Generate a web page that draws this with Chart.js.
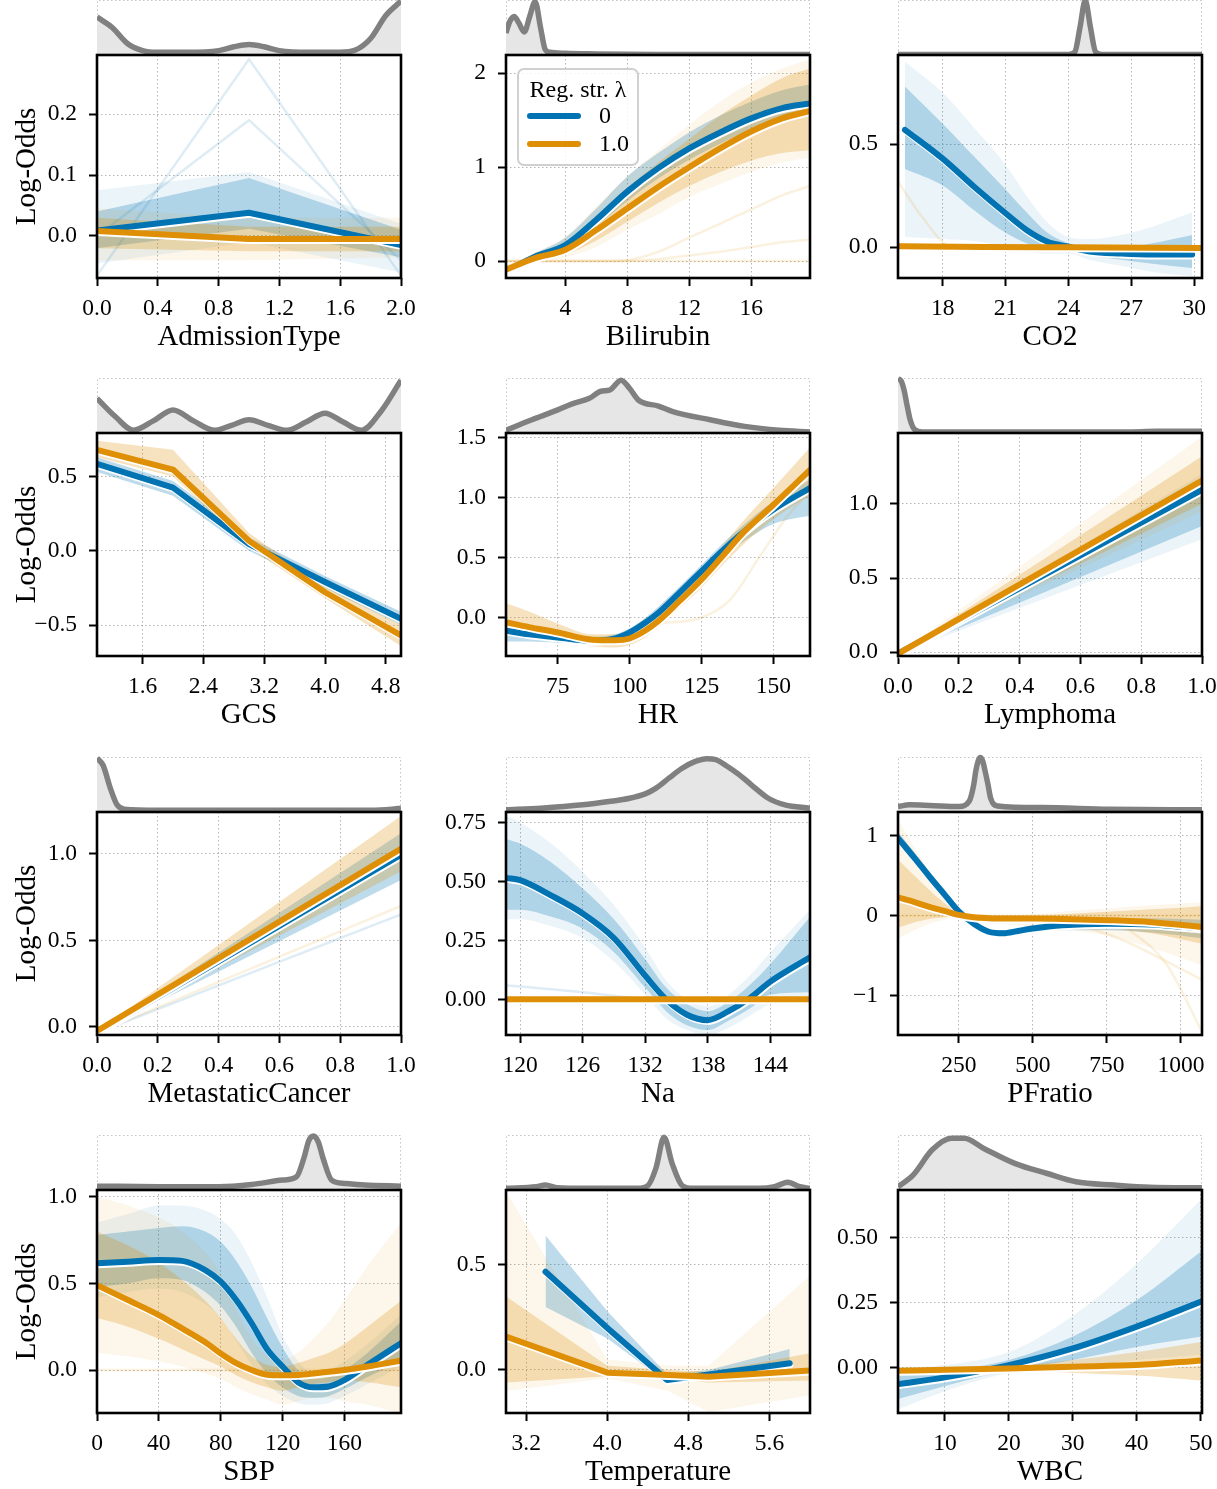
<!DOCTYPE html>
<html><head><meta charset="utf-8">
<script src="https://cdn.jsdelivr.net/npm/chart.js@4.4.0/dist/chart.umd.min.js"></script>
<style>
html,body{margin:0;padding:0;background:#fff;overflow:hidden;width:1217px;height:1489px;}
#wrap{position:relative;width:1217px;height:1489px;overflow:hidden;}
canvas{position:absolute;}
</style></head><body><div id="wrap"></div>
<script>
// ================= DATA =================
// AdmissionType
const admX = [0, 1, 2];
const admMean0 = [0.009, 0.038, -0.015];
const admLo0 = [-0.02, 0.012, -0.035];
const admHi0 = [0.04, 0.095, 0.01];
const admLoOut0 = [-0.045, -0.01, -0.06];
const admHiOut0 = [0.075, 0.105, 0.02];
const admMean1 = [0.008, -0.005, -0.005];
const admLo1 = [-0.02, -0.025, -0.025];
const admHi1 = [0.03, 0.015, 0.015];
const admLoOut1 = [-0.04, -0.04, -0.035];
const admHiOut1 = [0.045, 0.03, 0.03];
const admOut0a = [-0.065, 0.29, -0.065];
const admOut0b = [0.0, 0.19, -0.04];
const admDensX = [0, 0.1, 0.2, 0.3, 0.4, 0.6, 0.8, 0.9, 1.0, 1.1, 1.2, 1.4, 1.6, 1.7, 1.8, 1.9, 2.0];
const admDensY = [0.69, 0.5, 0.21, 0.08, 0.05, 0.05, 0.08, 0.15, 0.19, 0.15, 0.08, 0.05, 0.05, 0.09, 0.3, 0.72, 0.98];
const admXTicks = [0, 0.4, 0.8, 1.2, 1.6, 2.0];
const admXLabels = ['0.0', '0.4', '0.8', '1.2', '1.6', '2.0'];
const admYTicks = [0, 0.1, 0.2];
const admYLabels = ['0.0', '0.1', '0.2'];

// Bilirubin
const bilX = [0.17, 2, 4, 6, 8, 10, 12, 14, 16, 18, 19.8];
const bilMean0 = [-0.11, 0.045, 0.17, 0.44, 0.74, 0.99, 1.2, 1.37, 1.52, 1.63, 1.68];
const bilLo0 = [-0.14, 0.02, 0.13, 0.37, 0.64, 0.88, 1.08, 1.25, 1.4, 1.5, 1.55];
const bilHi0 = [-0.08, 0.08, 0.25, 0.56, 0.9, 1.15, 1.37, 1.55, 1.7, 1.82, 1.88];
const bilMean1 = [-0.09, 0.03, 0.12, 0.33, 0.56, 0.79, 1.0, 1.2, 1.38, 1.52, 1.6];
const bilLo1 = [-0.12, 0.0, 0.07, 0.22, 0.42, 0.62, 0.8, 0.95, 1.07, 1.15, 1.18];
const bilHi1 = [-0.06, 0.07, 0.2, 0.48, 0.78, 1.05, 1.3, 1.55, 1.76, 1.95, 2.05];
const bilLoOut1 = [-0.13, -0.01, 0.04, 0.15, 0.33, 0.5, 0.68, 0.82, 0.95, 1.05, 1.1];
const bilHiOut1 = [-0.05, 0.09, 0.26, 0.58, 0.9, 1.18, 1.45, 1.7, 1.9, 2.05, 2.15];
const bilOut1a = [0, 0, 0, 0, 0, 0, 0, 0, 0, 0, 0];
const bilOut1b = [0, 0, 0, 0, 0.01, 0.1, 0.25, 0.4, 0.55, 0.7, 0.8];
const bilOut1c = [0, 0, 0, 0, 0, 0.02, 0.06, 0.1, 0.15, 0.2, 0.23];
const bilDensX = [0.17, 0.4, 0.7, 1.0, 1.35, 1.7, 2.05, 2.4, 2.7, 3.0, 4, 6, 10, 19.8];
const bilDensY = [0.4, 0.6, 0.7, 0.58, 0.42, 0.7, 0.97, 0.5, 0.1, 0.05, 0.03, 0.02, 0.01, 0.01];
const bilXTicks = [4, 8, 12, 16];
const bilXLabels = ['4', '8', '12', '16'];
const bilYTicks = [0, 1, 2];
const bilYLabels = ['0', '1', '2'];

// CO2
const co2X0 = [16.2, 18, 19.5, 21, 22, 23, 24, 25, 26.5, 28, 29.9];
const co2Mean0 = [0.57, 0.43, 0.294, 0.165, 0.084, 0.027, 0.003, -0.02, -0.03, -0.035, -0.035];
const co2Lo0 = [0.38, 0.3, 0.18, 0.07, 0.02, -0.01, -0.015, -0.04, -0.06, -0.08, -0.1];
const co2Hi0 = [0.78, 0.6, 0.44, 0.28, 0.17, 0.07, 0.02, 0.0, 0.0, 0.02, 0.06];
const co2LoOut0 = [0.05, 0.04, 0.03, 0.0, -0.02, -0.03, -0.03, -0.06, -0.09, -0.12, -0.14];
const co2HiOut0 = [0.9, 0.75, 0.58, 0.4, 0.25, 0.12, 0.05, 0.04, 0.06, 0.1, 0.17];
const co2X1 = [15.87, 20, 24, 30.37];
const co2Mean1 = [0.005, 0.002, 0.0, -0.003];
const co2Lo1 = [-0.01, -0.01, -0.01, -0.012];
const co2Hi1 = [0.02, 0.01, 0.008, 0.005];
const co2OutX1 = [15.87, 17, 18.5, 30.37];
const co2Out1 = [0.32, 0.15, 0.0, 0.0];
const co2DensX = [15.87, 20, 23, 24, 24.3, 24.55, 24.8, 25.05, 25.3, 25.6, 27, 30.37];
const co2DensY = [0.01, 0.01, 0.01, 0.01, 0.05, 0.5, 0.99, 0.5, 0.05, 0.01, 0.01, 0.01];
const co2XTicks = [18, 21, 24, 27, 30];
const co2XLabels = ['18', '21', '24', '27', '30'];
const co2YTicks = [0, 0.5];
const co2YLabels = ['0.0', '0.5'];

// GCS
const gcsX = [1, 2, 3, 4, 5];
const gcsMean0 = [0.585, 0.425, 0.045, -0.21, -0.457];
const gcsLo0 = [0.53, 0.37, 0.0, -0.25, -0.5];
const gcsHi0 = [0.63, 0.47, 0.09, -0.17, -0.41];
const gcsMean1 = [0.68, 0.547, 0.067, -0.279, -0.57];
const gcsLo1 = [0.63, 0.5, 0.02, -0.32, -0.64];
const gcsHi1 = [0.74, 0.68, 0.12, -0.24, -0.5];
const gcsDensX = [1.0, 1.24, 1.48, 1.74, 2.0, 2.27, 2.54, 2.77, 3.0, 3.25, 3.5, 3.75, 4.0, 4.24, 4.48, 4.74, 5.0];
const gcsDensY = [0.63, 0.3, 0.05, 0.22, 0.42, 0.22, 0.05, 0.14, 0.24, 0.14, 0.05, 0.2, 0.36, 0.2, 0.05, 0.4, 0.96];
const gcsXTicks = [1.6, 2.4, 3.2, 4.0, 4.8];
const gcsXLabels = ['1.6', '2.4', '3.2', '4.0', '4.8'];
const gcsYTicks = [-0.5, 0, 0.5];
const gcsYLabels = ['\u22120.5', '0.0', '0.5'];

// HR
const hrX = [57, 65, 75, 87, 95, 100, 105, 110, 117, 125, 132, 140, 150, 162.7];
const hrMean0 = [-0.11, -0.14, -0.166, -0.194, -0.174, -0.125, -0.05, 0.04, 0.2, 0.387, 0.55, 0.72, 0.9, 1.08];
const hrLo0 = [-0.2, -0.2, -0.21, -0.22, -0.21, -0.17, -0.1, 0.0, 0.15, 0.33, 0.49, 0.64, 0.78, 0.85];
const hrHi0 = [-0.05, -0.09, -0.13, -0.16, -0.14, -0.09, -0.01, 0.09, 0.25, 0.44, 0.61, 0.78, 0.97, 1.15];
const hrMean1 = [-0.04, -0.08, -0.125, -0.185, -0.19, -0.175, -0.115, -0.028, 0.13, 0.318, 0.505, 0.72, 0.94, 1.23];
const hrLo1 = [-0.12, -0.15, -0.18, -0.24, -0.25, -0.23, -0.17, -0.08, 0.07, 0.25, 0.43, 0.62, 0.82, 1.02];
const hrHi1 = [0.12, 0.05, -0.05, -0.14, -0.14, -0.12, -0.06, 0.03, 0.19, 0.39, 0.59, 0.82, 1.08, 1.42];
const hrOutX1 = [110, 125, 135, 145, 155, 162.7];
const hrOut1 = [-0.05, 0.0, 0.15, 0.5, 0.85, 1.05];
const hrDensX = [57, 66, 75, 80, 86, 90, 93, 97, 100, 103, 110, 115, 128, 140, 152, 162.7];
const hrDensY = [0.05, 0.24, 0.42, 0.53, 0.63, 0.76, 0.78, 0.96, 0.81, 0.6, 0.49, 0.39, 0.24, 0.12, 0.05, 0.02];
const hrXTicks = [75, 100, 125, 150];
const hrXLabels = ['75', '100', '125', '150'];
const hrYTicks = [0, 0.5, 1.0, 1.5];
const hrYLabels = ['0.0', '0.5', '1.0', '1.5'];

// Lymphoma
const lymX = [0, 1];
const lymMean0 = [-0.01, 1.094];
const lymLo0 = [-0.01, 0.85];
const lymHi0 = [-0.01, 1.14];
const lymLoOut0 = [-0.01, 0.76];
const lymHiOut0 = [-0.01, 1.2];
const lymMean1 = [-0.01, 1.156];
const lymLo1 = [-0.01, 1.0];
const lymHi1 = [-0.01, 1.32];
const lymLoOut1 = [-0.01, 0.95];
const lymHiOut1 = [-0.01, 1.45];
const lymDensX = [0, 0.01, 0.02, 0.03, 0.04, 0.055, 0.08, 0.5, 0.75, 0.85, 1.0];
const lymDensY = [0.99, 0.95, 0.78, 0.5, 0.24, 0.06, 0.02, 0.02, 0.02, 0.03, 0.03];
const lymXTicks = [0, 0.2, 0.4, 0.6, 0.8, 1.0];
const lymXLabels = ['0.0', '0.2', '0.4', '0.6', '0.8', '1.0'];
const lymYTicks = [0, 0.5, 1.0];
const lymYLabels = ['0.0', '0.5', '1.0'];

// MetastaticCancer
const metX = [0, 1];
const metMean0 = [-0.033, 0.995];
const metLo0 = [-0.035, 0.85];
const metHi0 = [-0.03, 1.12];
const metMean1 = [-0.025, 1.03];
const metLo1 = [-0.03, 0.9];
const metHi1 = [-0.025, 1.22];
const metOut0 = [-0.035, 0.65];
const metOut1 = [-0.035, 0.7];
const metDensX = [0, 0.02, 0.044, 0.066, 0.09, 0.2, 0.5, 0.9, 0.97, 1.0];
const metDensY = [0.98, 0.85, 0.43, 0.13, 0.05, 0.03, 0.03, 0.03, 0.05, 0.07];
const metXTicks = [0, 0.2, 0.4, 0.6, 0.8, 1.0];
const metXLabels = ['0.0', '0.2', '0.4', '0.6', '0.8', '1.0'];
const metYTicks = [0, 0.5, 1.0];
const metYLabels = ['0.0', '0.5', '1.0'];

// Na
const naX = [118.65, 120, 123, 126, 129, 132, 134, 136, 138, 140, 142, 144, 147.8];
const naMean0 = [0.515, 0.505, 0.44, 0.364, 0.26, 0.1, 0.0, -0.065, -0.088, -0.05, 0.004, 0.075, 0.178];
const naLo0 = [0.38, 0.38, 0.35, 0.3, 0.2, 0.05, -0.05, -0.11, -0.13, -0.09, -0.04, 0.02, 0.03];
const naHi0 = [0.68, 0.66, 0.58, 0.47, 0.34, 0.17, 0.05, -0.02, -0.05, -0.01, 0.06, 0.15, 0.35];
const naLoOut0 = [0.34, 0.34, 0.31, 0.26, 0.16, 0.02, -0.08, -0.13, -0.15, -0.12, -0.07, -0.02, 0.0];
const naHiOut0 = [0.78, 0.75, 0.66, 0.54, 0.4, 0.22, 0.08, 0.0, -0.03, 0.02, 0.1, 0.2, 0.38];
const naX1 = [118.65, 147.8];
const naMean1 = [0, 0];
const naLo1 = [-0.005, -0.005];
const naHi1 = [0.005, 0.005];
const naOutX0 = [118.65, 126, 132];
const naOut0 = [0.06, 0.03, 0.0];
const naDensX = [118.65, 122, 126, 128.5, 130.5, 132, 133, 134.3, 135.5, 136.8, 137.9, 138.8, 139.7, 141, 142.2, 143.8, 145.4, 147.8];
const naDensY = [0.04, 0.07, 0.13, 0.19, 0.25, 0.33, 0.43, 0.62, 0.79, 0.92, 0.97, 0.95, 0.85, 0.68, 0.49, 0.25, 0.13, 0.07];
const naXTicks = [120, 126, 132, 138, 144];
const naXLabels = ['120', '126', '132', '138', '144'];
const naYTicks = [0, 0.25, 0.5, 0.75];
const naYLabels = ['0.00', '0.25', '0.50', '0.75'];

// PFratio
const pfX = [44, 100, 150, 200, 250, 300, 350, 400, 450, 500, 600, 750, 900, 1071];
const pfMean0 = [0.97, 0.72, 0.49, 0.27, 0.05, -0.1, -0.2, -0.22, -0.19, -0.16, -0.12, -0.1, -0.11, -0.16];
const pfLo0 = [0.9, 0.66, 0.44, 0.22, 0.01, -0.14, -0.24, -0.26, -0.23, -0.2, -0.18, -0.18, -0.21, -0.28];
const pfHi0 = [1.05, 0.79, 0.55, 0.32, 0.09, -0.06, -0.16, -0.18, -0.15, -0.12, -0.07, -0.04, -0.03, -0.05];
const pfMean1 = [0.23, 0.17, 0.11, 0.06, 0.01, -0.02, -0.03, -0.035, -0.035, -0.035, -0.04, -0.055, -0.08, -0.14];
const pfLo1 = [-0.15, -0.08, -0.04, -0.02, -0.01, -0.04, -0.06, -0.07, -0.08, -0.08, -0.1, -0.15, -0.22, -0.35];
const pfHi1 = [0.7, 0.5, 0.32, 0.16, 0.04, 0.01, 0.0, 0.0, 0.0, 0.0, 0.02, 0.05, 0.08, 0.12];
const pfLoOut1 = [-0.28, -0.18, -0.1, -0.05, -0.02, -0.06, -0.09, -0.1, -0.12, -0.13, -0.17, -0.25, -0.4, -0.62];
const pfHiOut1 = [1.2, 0.85, 0.55, 0.28, 0.06, 0.02, 0.01, 0.01, 0.01, 0.02, 0.05, 0.09, 0.13, 0.17];
const pfOut1a = [0, 0, 0, 0, 0, 0, 0, 0, 0, 0, 0, 0, 0, 0];
const pfOutXb = [600, 800, 1071];
const pfOut1b = [-0.05, -0.3, -0.8];
const pfOutXc = [800, 950, 1071];
const pfOut1c = [-0.1, -0.6, -1.45];
const pfDensX = [44, 83, 150, 250, 285, 300, 307, 315, 322, 330, 338, 348, 357, 380, 530, 755, 1071];
const pfDensY = [0.1, 0.13, 0.12, 0.1, 0.2, 0.5, 0.75, 0.93, 0.99, 0.93, 0.75, 0.5, 0.25, 0.11, 0.08, 0.05, 0.04];
const pfXTicks = [250, 500, 750, 1000];
const pfXLabels = ['250', '500', '750', '1000'];
const pfYTicks = [-1, 0, 1];
const pfYLabels = ['\u22121', '0', '1'];

// SBP
const sbpX = [0, 20, 40, 55, 70, 80, 90, 100, 110, 120, 130, 140, 150, 160, 175, 196.6];
const sbpMean0 = [0.616, 0.625, 0.635, 0.63, 0.577, 0.51, 0.404, 0.27, 0.12, 0.02, -0.07, -0.1, -0.095, -0.058, 0.03, 0.155];
const sbpLo0 = [0.48, 0.5, 0.53, 0.52, 0.45, 0.37, 0.25, 0.1, -0.02, -0.1, -0.15, -0.16, -0.15, -0.11, -0.04, 0.05];
const sbpHi0 = [0.78, 0.8, 0.82, 0.83, 0.8, 0.74, 0.63, 0.48, 0.3, 0.13, 0.0, -0.05, -0.04, 0.0, 0.1, 0.28];
const sbpLoOut0 = [0.42, 0.45, 0.47, 0.45, 0.38, 0.3, 0.17, 0.03, -0.08, -0.15, -0.19, -0.2, -0.19, -0.15, -0.08, 0.02];
const sbpHiOut0 = [0.85, 0.9, 0.95, 0.95, 0.92, 0.87, 0.78, 0.62, 0.42, 0.2, 0.05, -0.02, 0.0, 0.05, 0.15, 0.32];
const sbpMean1 = [0.49, 0.404, 0.317, 0.24, 0.16, 0.096, 0.04, 0.0, -0.027, -0.03, -0.028, -0.02, -0.01, 0.0, 0.02, 0.054];
const sbpLo1 = [0.3, 0.25, 0.18, 0.12, 0.06, 0.02, -0.03, -0.07, -0.1, -0.12, -0.1, -0.08, -0.07, -0.06, -0.07, -0.1];
const sbpHi1 = [0.8, 0.72, 0.62, 0.52, 0.4, 0.3, 0.18, 0.08, 0.03, 0.02, 0.04, 0.07, 0.1, 0.15, 0.25, 0.4];
const sbpLoOut1 = [0.1, 0.08, 0.05, 0.02, -0.02, -0.05, -0.1, -0.14, -0.17, -0.2, -0.18, -0.16, -0.16, -0.18, -0.2, -0.25];
const sbpHiOut1 = [1.0, 0.95, 0.88, 0.8, 0.68, 0.55, 0.35, 0.18, 0.08, 0.06, 0.1, 0.18, 0.28, 0.4, 0.6, 0.85];
const sbpOut1 = [0, 0, 0, 0, 0, 0, 0, 0, 0, 0, 0, 0, 0, 0, 0, 0];
const sbpDensX = [0, 40, 79, 100, 120, 129, 134, 137, 140, 143, 146.5, 151.7, 160, 173, 196.6];
const sbpDensY = [0.07, 0.06, 0.06, 0.1, 0.18, 0.24, 0.6, 0.9, 0.98, 0.88, 0.55, 0.18, 0.12, 0.09, 0.07];
const sbpXTicks = [0, 40, 80, 120, 160];
const sbpXLabels = ['0', '40', '80', '120', '160'];
const sbpYTicks = [0, 0.5, 1.0];
const sbpYLabels = ['0.0', '0.5', '1.0'];

// Temperature
const tmpX0 = [3.39, 4.0, 4.59, 5.0, 5.8];
const tmpMean0 = [0.468, 0.2, -0.048, -0.022, 0.032];
const tmpLo0 = [0.3, 0.15, -0.06, -0.04, 0.0];
const tmpHi0 = [0.64, 0.28, -0.02, 0.0, 0.1];
const tmpX1 = [3.0, 4.0, 4.6, 5.0, 6.0];
const tmpMean1 = [0.159, -0.013, -0.024, -0.032, -0.003];
const tmpLo1 = [-0.06, -0.03, -0.04, -0.06, -0.05];
const tmpHi1 = [0.35, 0.02, 0.0, -0.01, 0.08];
const tmpLoOut1 = [-0.1, -0.04, -0.1, -0.2, -0.12];
const tmpHiOut1 = [0.85, 0.05, 0.02, 0.02, 0.45];
const tmpDensX = [3.0, 3.3, 3.39, 3.5, 3.8, 4.3, 4.4, 4.48, 4.56, 4.64, 4.74, 4.85, 5.5, 5.65, 5.78, 5.9, 6.0];
const tmpDensY = [0.03, 0.06, 0.09, 0.04, 0.03, 0.03, 0.08, 0.4, 0.96, 0.48, 0.08, 0.03, 0.03, 0.06, 0.14, 0.06, 0.03];
const tmpXTicks = [3.2, 4.0, 4.8, 5.6];
const tmpXLabels = ['3.2', '4.0', '4.8', '5.6'];
const tmpYTicks = [0, 0.5];
const tmpYLabels = ['0.0', '0.5'];

// WBC
const wbcX = [2.65, 10, 20, 30, 40, 50.2];
const wbcMean0 = [-0.063, -0.037, 0.01, 0.074, 0.158, 0.255];
const wbcLo0 = [-0.12, -0.07, -0.01, 0.03, 0.08, 0.12];
const wbcHi0 = [-0.02, -0.01, 0.03, 0.12, 0.26, 0.45];
const wbcLoOut0 = [-0.16, -0.09, -0.02, 0.0, 0.03, 0.05];
const wbcHiOut0 = [0.0, 0.01, 0.06, 0.2, 0.4, 0.65];
const wbcMean1 = [-0.012, -0.008, -0.003, 0.004, 0.01, 0.028];
const wbcLo1 = [-0.03, -0.02, -0.01, -0.02, -0.03, -0.05];
const wbcHi1 = [0.0, 0.0, 0.005, 0.03, 0.06, 0.1];
const wbcDensX = [2.65, 5, 8, 11, 13, 16, 21, 26, 30.5, 36.5, 42, 50.2];
const wbcDensY = [0.06, 0.27, 0.73, 0.94, 0.94, 0.76, 0.48, 0.3, 0.15, 0.09, 0.05, 0.04];
const wbcXTicks = [10, 20, 30, 40, 50];
const wbcXLabels = ['10', '20', '30', '40', '50'];
const wbcYTicks = [0, 0.25, 0.5];
const wbcYLabels = ['0.00', '0.25', '0.50'];

const legendTitle = 'Reg. str. \u03bb';
const legendLabels = ['0', '1.0'];

// ================= PANELS =================
const panels = [
  {name: 'AdmissionType', xr: [0, 2], yr: [-0.069, 0.297], linear: true,
   xt: admXTicks, xl: admXLabels, yt: admYTicks, yl: admYLabels,
   s0: {x: admX, m: admMean0, lo: admLo0, hi: admHi0, loO: admLoOut0, hiO: admHiOut0},
   s1: {x: admX, m: admMean1, lo: admLo1, hi: admHi1, loO: admLoOut1, hiO: admHiOut1},
   out: [[0, admX, admOut0a], [0, admX, admOut0b]], dx: admDensX, dy: admDensY},
  {name: 'Bilirubin', xr: [0.17, 19.8], yr: [-0.18, 2.195],
   xt: bilXTicks, xl: bilXLabels, yt: bilYTicks, yl: bilYLabels,
   s0: {x: bilX, m: bilMean0, lo: bilLo0, hi: bilHi0},
   s1: {x: bilX, m: bilMean1, lo: bilLo1, hi: bilHi1, loO: bilLoOut1, hiO: bilHiOut1},
   out: [[1, bilX, bilOut1a], [1, bilX, bilOut1b], [1, bilX, bilOut1c]], dx: bilDensX, dy: bilDensY},
  {name: 'CO2', xr: [15.87, 30.37], yr: [-0.149, 0.933],
   xt: co2XTicks, xl: co2XLabels, yt: co2YTicks, yl: co2YLabels,
   s0: {x: co2X0, m: co2Mean0, lo: co2Lo0, hi: co2Hi0, loO: co2LoOut0, hiO: co2HiOut0},
   s1: {x: co2X1, m: co2Mean1, lo: co2Lo1, hi: co2Hi1},
   out: [[1, co2OutX1, co2Out1]], dx: co2DensX, dy: co2DensY},
  {name: 'GCS', xr: [1, 5], yr: [-0.708, 0.793], linear: true,
   xt: gcsXTicks, xl: gcsXLabels, yt: gcsYTicks, yl: gcsYLabels,
   s0: {x: gcsX, m: gcsMean0, lo: gcsLo0, hi: gcsHi0},
   s1: {x: gcsX, m: gcsMean1, lo: gcsLo1, hi: gcsHi1},
   out: [], dx: gcsDensX, dy: gcsDensY},
  {name: 'HR', xr: [57, 162.7], yr: [-0.321, 1.539],
   xt: hrXTicks, xl: hrXLabels, yt: hrYTicks, yl: hrYLabels,
   s0: {x: hrX, m: hrMean0, lo: hrLo0, hi: hrHi0},
   s1: {x: hrX, m: hrMean1, lo: hrLo1, hi: hrHi1},
   out: [[1, hrOutX1, hrOut1]], dx: hrDensX, dy: hrDensY},
  {name: 'Lymphoma', xr: [0, 1], yr: [-0.025, 1.476], linear: true,
   xt: lymXTicks, xl: lymXLabels, yt: lymYTicks, yl: lymYLabels,
   s0: {x: lymX, m: lymMean0, lo: lymLo0, hi: lymHi0, loO: lymLoOut0, hiO: lymHiOut0},
   s1: {x: lymX, m: lymMean1, lo: lymLo1, hi: lymHi1, loO: lymLoOut1, hiO: lymHiOut1},
   out: [], dx: lymDensX, dy: lymDensY},
  {name: 'MetastaticCancer', xr: [0, 1], yr: [-0.048, 1.243], linear: true,
   xt: metXTicks, xl: metXLabels, yt: metYTicks, yl: metYLabels,
   s0: {x: metX, m: metMean0, lo: metLo0, hi: metHi0},
   s1: {x: metX, m: metMean1, lo: metLo1, hi: metHi1},
   out: [[0, metX, metOut0], [1, metX, metOut1]], dx: metDensX, dy: metDensY},
  {name: 'Na', xr: [118.65, 147.8], yr: [-0.151, 0.794],
   xt: naXTicks, xl: naXLabels, yt: naYTicks, yl: naYLabels,
   s0: {x: naX, m: naMean0, lo: naLo0, hi: naHi0, loO: naLoOut0, hiO: naHiOut0},
   s1: {x: naX1, m: naMean1, lo: naLo1, hi: naHi1},
   out: [[0, naOutX0, naOut0]], dx: naDensX, dy: naDensY},
  {name: 'PFratio', xr: [44, 1071], yr: [-1.49, 1.296],
   xt: pfXTicks, xl: pfXLabels, yt: pfYTicks, yl: pfYLabels,
   s0: {x: pfX, m: pfMean0, lo: pfLo0, hi: pfHi0},
   s1: {x: pfX, m: pfMean1, lo: pfLo1, hi: pfHi1, loO: pfLoOut1, hiO: pfHiOut1},
   out: [[1, pfX, pfOut1a], [1, pfOutXb, pfOut1b], [1, pfOutXc, pfOut1c]], dx: pfDensX, dy: pfDensY},
  {name: 'SBP', xr: [0, 196.6], yr: [-0.248, 1.039],
   xt: sbpXTicks, xl: sbpXLabels, yt: sbpYTicks, yl: sbpYLabels,
   s0: {x: sbpX, m: sbpMean0, lo: sbpLo0, hi: sbpHi0, loO: sbpLoOut0, hiO: sbpHiOut0},
   s1: {x: sbpX, m: sbpMean1, lo: sbpLo1, hi: sbpHi1, loO: sbpLoOut1, hiO: sbpHiOut1},
   out: [[1, sbpX, sbpOut1]], dx: sbpDensX, dy: sbpDensY},
  {name: 'Temperature', xr: [3.0, 6.0], yr: [-0.205, 0.857], linear: true,
   xt: tmpXTicks, xl: tmpXLabels, yt: tmpYTicks, yl: tmpYLabels,
   s0: {x: tmpX0, m: tmpMean0, lo: tmpLo0, hi: tmpHi0},
   s1: {x: tmpX1, m: tmpMean1, lo: tmpLo1, hi: tmpHi1, loO: tmpLoOut1, hiO: tmpHiOut1},
   out: [], dx: tmpDensX, dy: tmpDensY},
  {name: 'WBC', xr: [2.65, 50.2], yr: [-0.174, 0.683],
   xt: wbcXTicks, xl: wbcXLabels, yt: wbcYTicks, yl: wbcYLabels,
   s0: {x: wbcX, m: wbcMean0, lo: wbcLo0, hi: wbcHi0, loO: wbcLoOut0, hiO: wbcHiOut0},
   s1: {x: wbcX, m: wbcMean1, lo: wbcLo1, hi: wbcHi1},
   out: [], dx: wbcDensX, dy: wbcDensY}
];

// ================= LAYOUT / STYLE =================
const FONT = "'Liberation Serif','Times New Roman','DejaVu Serif',serif";
const RGB = ['1,115,178', '222,143,5'];
const COLORS = ['#0173b2', '#de8f05'];
const COL_L = [97, 506, 898];
const ROW_T = [55, 433, 812, 1190];
const PLOT_W = 304, PLOT_H = 223, DENS_H = 55;
const PT = 32, XH = 77, PR = 30;
const TICK_FONT = {family: FONT, size: 23.5};
const TITLE_FONT = {family: FONT, size: 29};

Chart.defaults.font.family = FONT;
const wrap = document.getElementById('wrap');

function makeCanvas(left, top, w, h) {
  const c = document.createElement('canvas');
  c.width = w; c.height = h;
  c.style.left = left + 'px'; c.style.top = top + 'px';
  c.style.width = w + 'px'; c.style.height = h + 'px';
  wrap.appendChild(c);
  return c;
}
function pts(xs, ys) { return xs.map((x, i) => ({x: x, y: ys[i]})); }

const framePlugin = {
  id: 'frame',
  afterDraw(chart) {
    const a = chart.chartArea, ctx = chart.ctx;
    ctx.save();
    ctx.strokeStyle = '#000'; ctx.lineWidth = 2.6;
    ctx.strokeRect(a.left, a.top, a.right - a.left, a.bottom - a.top);
    ctx.restore();
  }
};
const shiftPlugin = {
  id: 'shift',
  beforeDatasetDraw(chart, args) {
    const ds = chart.data.datasets[args.index];
    if (ds.shift) { chart.ctx.save(); chart.ctx.translate(ds.shift[0], ds.shift[1]); }
  },
  afterDatasetDraw(chart, args) {
    const ds = chart.data.datasets[args.index];
    if (ds.shift) chart.ctx.restore();
  }
};
const densFramePlugin = {
  id: 'densFrame',
  beforeDatasetsDraw(chart) {
    const a = chart.chartArea, ctx = chart.ctx;
    ctx.save();
    ctx.strokeStyle = '#c4c4c4'; ctx.lineWidth = 1; ctx.setLineDash([1.5, 2.5]);
    ctx.beginPath();
    ctx.moveTo(a.left + 0.5, a.bottom); ctx.lineTo(a.left + 0.5, a.top + 0.5);
    ctx.lineTo(a.right - 0.5, a.top + 0.5); ctx.lineTo(a.right - 0.5, a.bottom);
    ctx.stroke();
    ctx.restore();
  }
};

function buildDatasets(p) {
  const ds = [];
  const interp = p.linear ? {tension: 0} : {cubicInterpolationMode: 'monotone'};
  const base = () => Object.assign({pointRadius: 0, fill: false, borderWidth: 0, borderColor: 'rgba(0,0,0,0)'}, interp);
  function band(s, lo, hi, k, alpha, order) {
    if (!lo || !hi) return;
    ds.push(Object.assign(base(), {data: pts(s.x, lo), order: order}));
    ds.push(Object.assign(base(), {data: pts(s.x, hi), fill: '-1', backgroundColor: 'rgba(' + RGB[k] + ',' + alpha + ')', order: order}));
  }
  band(p.s0, p.s0.loO, p.s0.hiO, 0, 0.08, 40);
  band(p.s0, p.s0.lo, p.s0.hi, 0, 0.26, 38);
  band(p.s1, p.s1.loO, p.s1.hiO, 1, 0.08, 36);
  band(p.s1, p.s1.lo, p.s1.hi, 1, 0.26, 34);
  p.out.forEach(o => {
    ds.push(Object.assign(base(), {data: pts(o[1], o[2]), borderWidth: 2.5, borderColor: 'rgba(' + RGB[o[0]] + ',0.13)', order: 30}));
  });
  [p.s0, p.s1].forEach((s, k) => {
    ds.push(Object.assign(base(), {data: pts(s.x, s.m), borderWidth: 5.5, borderColor: '#ffffff', shift: [0.8, 2.2], borderCapStyle: 'round', borderJoinStyle: 'round', order: 10 - 4 * k}));
    ds.push(Object.assign(base(), {data: pts(s.x, s.m), borderWidth: 6, borderColor: COLORS[k], borderCapStyle: 'round', borderJoinStyle: 'round', order: 9 - 4 * k}));
  });
  return ds;
}

function mainChart(p, col, row) {
  const AW = col === 0 ? 97 : 80;
  const left = COL_L[col] - AW, top = ROW_T[row] - PT;
  const W = AW + PLOT_W + PR, H = PT + PLOT_H + XH;
  const cv = makeCanvas(left, top, W, H);
  const gridOpts = {color: '#b4b4b4', lineWidth: 1, tickColor: '#000', tickWidth: 2, tickLength: 8, drawTicks: true};
  new Chart(cv, {
    type: 'line',
    data: {datasets: buildDatasets(p)},
    options: {
      responsive: false, animation: false, devicePixelRatio: 1,
      layout: {padding: {top: PT, right: PR, left: 0, bottom: 0}},
      plugins: {legend: {display: false}, tooltip: {enabled: false}},
      events: [],
      scales: {
        x: {
          type: 'linear', min: p.xr[0], max: p.xr[1],
          afterBuildTicks: s => { s.ticks = p.xt.map(v => ({value: v})); },
          afterFit: s => { s.height = XH; },
          ticks: {callback: v => p.xl[p.xt.indexOf(v)], font: TICK_FONT, color: '#000', padding: 9, maxRotation: 0, autoSkip: false},
          grid: gridOpts,
          border: {display: false, dash: [1.5, 2.5]},
          title: {display: true, text: p.name, font: TITLE_FONT, color: '#000', padding: {top: 0, bottom: 0}}
        },
        y: {
          type: 'linear', min: p.yr[0], max: p.yr[1],
          afterBuildTicks: s => { s.ticks = p.yt.map(v => ({value: v})); },
          afterFit: s => { s.width = AW; },
          ticks: {callback: v => p.yl[p.yt.indexOf(v)], font: TICK_FONT, color: '#000', padding: 12, autoSkip: false},
          grid: gridOpts,
          border: {display: false, dash: [1.5, 2.5]},
          title: {display: col === 0, text: 'Log-Odds', font: TITLE_FONT, color: '#000', padding: {top: 10, bottom: 0}}
        }
      }
    },
    plugins: [shiftPlugin, framePlugin]
  });
}

function densChart(p, col, row) {
  const padTop = 6;
  const cv = makeCanvas(COL_L[col], ROW_T[row] - DENS_H - padTop, PLOT_W, DENS_H + padTop);
  new Chart(cv, {
    type: 'line',
    data: {datasets: [{
      data: pts(p.dx, p.dy), borderColor: '#808080', borderWidth: 5.5, pointRadius: 0,
      fill: 'origin', backgroundColor: '#e6e6e6', cubicInterpolationMode: 'monotone',
      borderJoinStyle: 'round', clip: 6
    }]},
    options: {
      responsive: false, animation: false, devicePixelRatio: 1, events: [],
      layout: {padding: {top: padTop, left: 0, right: 0, bottom: 0}},
      plugins: {legend: {display: false}, tooltip: {enabled: false}},
      scales: {
        x: {type: 'linear', display: false, min: p.xr[0], max: p.xr[1]},
        y: {type: 'linear', display: false, min: 0, max: 1.0}
      }
    },
    plugins: [densFramePlugin]
  });
}

panels.forEach((p, i) => {
  const col = i % 3, row = Math.floor(i / 3);
  densChart(p, col, row);
  mainChart(p, col, row);
});

// legend (inside Bilirubin panel)
(function () {
  const lg = document.createElement('div');
  lg.style.cssText = 'position:absolute;left:517px;top:68px;width:122px;height:98px;box-sizing:border-box;border:2px solid #d0d0d0;border-radius:7px;background:rgba(255,255,255,0.82);color:#000;font-size:24px;font-family:' + FONT + ';';
  const t = document.createElement('div');
  t.textContent = legendTitle;
  t.style.cssText = 'position:absolute;left:0;right:0;top:5px;text-align:center;line-height:28px;white-space:nowrap;';
  lg.appendChild(t);
  legendLabels.forEach((lab, k) => {
    const ln = document.createElement('div');
    ln.style.cssText = 'position:absolute;left:8px;top:' + (42.5 + 28 * k) + 'px;width:54px;height:6px;border-radius:3px;background:' + COLORS[k] + ';';
    lg.appendChild(ln);
    const tx = document.createElement('div');
    tx.textContent = lab;
    tx.style.cssText = 'position:absolute;left:80px;top:' + (31 + 28 * k) + 'px;line-height:28px;';
    lg.appendChild(tx);
  });
  wrap.appendChild(lg);
})();
</script>
</body></html>
